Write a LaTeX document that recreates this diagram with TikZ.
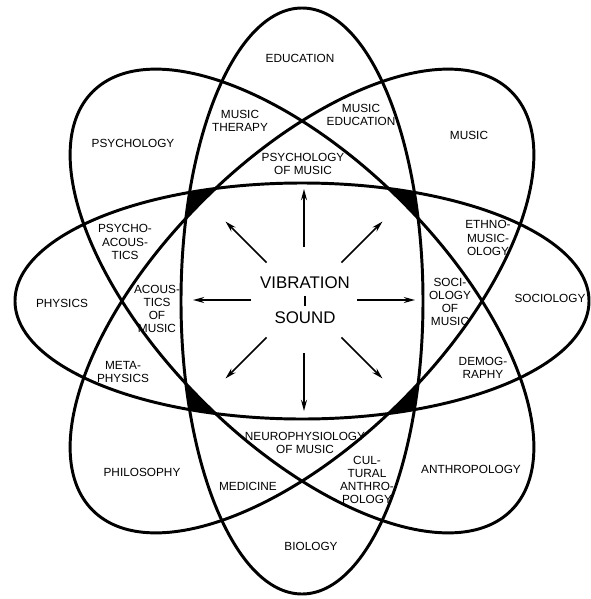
\documentclass[tikz,border=0pt]{standalone}
\usepackage{fontspec}
\setmainfont{Liberation Sans}
\usetikzlibrary{arrows.meta}

\begin{document}
\begin{tikzpicture}[
  x=0.25mm, y=-0.25mm,
  ring/.style={draw=black, line width=2.1pt},
  field/.style={font=\fontsize{8.4}{9.3}\selectfont, align=center, inner sep=0pt},
  core/.style={font=\fontsize{12}{14}\selectfont, inner sep=0pt},
  ray/.style={line width=1.1pt, -{Stealth[length=2.8mm, width=1.5mm]}}]
\useasboundingbox (0,0) rectangle (591,599);
\coordinate (hub) at (302,301);
% black corners of the inner square
\begin{scope}
  \clip (hub) ellipse [x radius=121, y radius=293];
  \clip (hub) ellipse [x radius=287, y radius=118];
  \clip[rotate around={-45:(hub)}] (hub) ellipse [x radius=296, y radius=141];
  \fill[even odd rule] (0,0) rectangle (591,599) [rotate around={45:(hub)}] (hub) ellipse [x radius=296, y radius=141];
\end{scope}
\begin{scope}
  \clip (hub) ellipse [x radius=121, y radius=293];
  \clip (hub) ellipse [x radius=287, y radius=118];
  \clip[rotate around={45:(hub)}] (hub) ellipse [x radius=296, y radius=141];
  \fill[even odd rule] (0,0) rectangle (591,599) [rotate around={-45:(hub)}] (hub) ellipse [x radius=296, y radius=141];
\end{scope}
% the four rings
\draw[ring] (hub) ellipse [x radius=121, y radius=293];
\draw[ring] (hub) ellipse [x radius=287, y radius=118];
\draw[ring, rotate around={45:(hub)}] (hub) ellipse [x radius=296, y radius=141];
\draw[ring, rotate around={-45:(hub)}] (hub) ellipse [x radius=296, y radius=141];
% centre
\node[core] (vib) at (305,283) {VIBRATION};
\node[core] (snd) at (305,318) {SOUND};
\draw[line width=0.8pt, shorten <=1.6mm, shorten >=1.4mm] (vib.south) -- (snd.north);
\coordinate (src) at (304,300);
\foreach \a in {0,45,...,315}
  \draw[ray] (src) ++(\a:53) -- ++(\a:58);
% fields
\node[field] (edu) at (300,58) {EDUCATION};
\node[field] (mth) at (240,121) {MUSIC\\THERAPY};
\node[field] (med) at (361,115) {MUSIC\\EDUCATION};
\node[field] (psm) at (303,164) {PSYCHOLOGY\\OF MUSIC};
\node[field] (psy) at (133,143) {PSYCHOLOGY};
\node[field] (mus) at (469,135) {MUSIC};
\node[field] (eth) at (488,238) {ETHNO-\\MUSIC-\\OLOGY};
\node[field] (pac) at (125,242) {PSYCHO-\\ACOUS-\\TICS};
\node[field] (phy) at (62,303) {PHYSICS};
\node[field] (acm) at (157,309) {ACOUS-\\TICS\\OF\\MUSIC};
\node[field] (som) at (450,302) {SOCI-\\OLOGY\\OF\\MUSIC};
\node[field] (soc) at (550,298) {SOCIOLOGY};
\node[field] (dem) at (483,368) {DEMOG-\\RAPHY};
\node[field] (met) at (123,372) {META-\\PHYSICS};
\node[field] (neu) at (305,443) {NEUROPHYSIOLOGY\\OF MUSIC};
\node[field] (phi) at (142,472) {PHILOSOPHY};
\node[field] (mdc) at (248,486) {MEDICINE};
\node[field] (cua) at (367,480) {CUL-\\TURAL\\ANTHRO-\\POLOGY};
\node[field] (ant) at (471,469) {ANTHROPOLOGY};
\node[field] (bio) at (311,546) {BIOLOGY};
\end{tikzpicture}
\end{document}
